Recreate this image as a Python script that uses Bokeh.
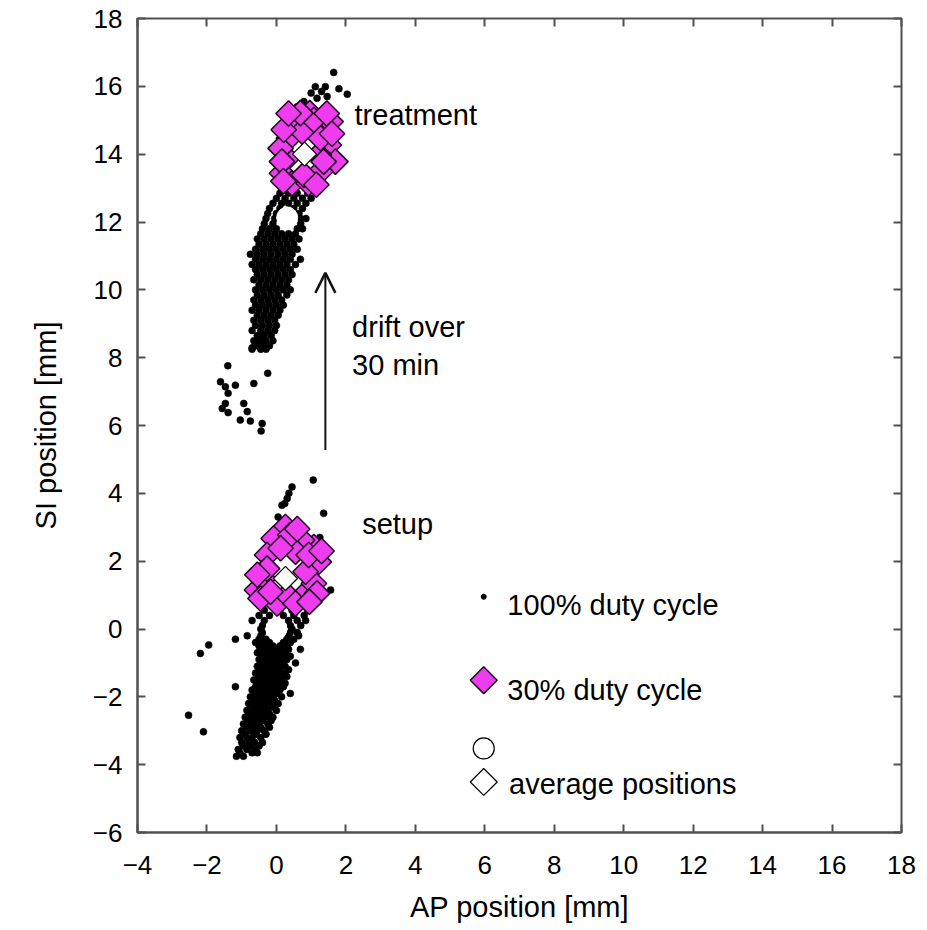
import math
from bokeh.plotting import figure
from bokeh.models import Range1d, FixedTicker, LinearAxis, Label, Arrow, OpenHead
from bokeh.embed import file_html
from bokeh.resources import INLINE

# ---------------- data ----------------
x_ticks = [-4, -2, 0, 2, 4, 6, 8, 10, 12, 14, 16, 18]
x_tick_labels = ["\u22124", "\u22122", "0", "2", "4", "6", "8", "10", "12", "14", "16", "18"]
y_ticks = [-6, -4, -2, 0, 2, 4, 6, 8, 10, 12, 14, 16, 18]
y_tick_labels = ["\u22126", "\u22124", "\u22122", "0", "2", "4", "6", "8", "10", "12", "14", "16", "18"]

# 100% duty cycle, setup: rows of (SI, [AP ...])
setup_rows = [
    (-3.75, [-1.15, -0.95]),
    (-3.65, [-1.05, -0.7, -0.55]),
    (-3.55, [-1.1, -0.85, -0.6]),
    (-3.45, [-0.95, -0.75, -0.5]),
    (-3.35, [-1.0, -0.8, -0.62, -0.4]),
    (-3.2, [-1.05, -0.85, -0.7, -0.45]),
    (-3.1, [-0.9, -0.6, -0.3]),
    (-3.0, [-1.0, -0.75, -0.55, -0.35]),
    (-2.9, [-0.85, -0.65, -0.45, -0.2]),
    (-2.8, [-0.95, -0.7, -0.5, -0.25]),
    (-2.7, [-0.8, -0.6, -0.4, -0.15]),
    (-2.6, [-0.9, -0.7, -0.5, -0.3, -0.1]),
    (-2.5, [-0.75, -0.55, -0.35, -0.2]),
    (-2.4, [-0.85, -0.65, -0.45, -0.25, 0.0]),
    (-2.3, [-0.7, -0.5, -0.3, -0.1]),
    (-2.2, [-0.8, -0.6, -0.4, -0.2, 0.05]),
    (-2.1, [-0.65, -0.45, -0.25, -0.05]),
    (-2.0, [-0.75, -0.55, -0.35, -0.15, 0.15]),
    (-1.9, [-0.6, -0.4, -0.2, 0.0, 0.4]),
    (-1.8, [-0.7, -0.5, -0.3, -0.1, 0.1]),
    (-1.7, [-1.18, -0.6, -0.4, -0.2, 0.0, 0.2]),
    (-1.6, [-0.55, -0.35, -0.15, 0.05, 0.25]),
    (-1.5, [-0.65, -0.45, -0.25, -0.05, 0.15]),
    (-1.4, [-0.5, -0.3, -0.1, 0.1, 0.3]),
    (-1.3, [-0.6, -0.4, -0.2, 0.0, 0.2]),
    (-1.2, [-0.5, -0.3, -0.1, 0.1, 0.35]),
    (-1.1, [-0.55, -0.35, -0.15, 0.05, 0.25]),
    (-1.0, [-0.45, -0.25, -0.05, 0.15, 0.55]),
    (-0.9, [-0.5, -0.3, -0.1, 0.1, 0.3]),
    (-0.8, [-0.4, -0.2, 0.0, 0.2, 0.4]),
    (-0.7, [-0.55, -0.35, -0.15, 0.05, 0.25]),
    (-0.6, [-0.45, -0.25, -0.05, 0.15, 0.35, 0.69]),
    (-0.5, [-0.5, -0.3, -0.1, 0.1, 0.3]),
    (-0.4, [-0.6, -0.4, -0.2, 0.2, 0.4]),
    (-0.3, [-1.18, -0.5, -0.3, 0.3, 0.5]),
    (-0.2, [-0.84, -0.45, 0.35, 0.64]),
    (-0.1, [-0.4, 0.4, 0.6]),
    (0.0, [-0.45, 0.45]),
    (0.1, [-0.4, 0.4, 0.7]),
    (0.25, [-0.7, -0.35, 0.35, 0.6, 0.84]),
    (0.4, [-0.5, -0.2, 0.2, 0.5, 0.8]),
    (0.55, [-0.35, 0.1, 0.45, 0.9]),
]
setup_extra_ap = [-1.95, -2.19, -2.53, -2.1, 1.56, 1.06, 0.45, 0.36, 0.31, 0.16, 0.24, 1.36, 0.05, 0.15, 1.25]
setup_extra_si = [-0.47, -0.72, -2.54, -3.03, 1.15, 4.39, 4.19, 4.0, 3.85, 3.65, 3.7, 3.41, 3.3, 3.15, 2.7]

# 100% duty cycle, treatment
treat_rows = [
    (8.25, [-0.7, -0.45, -0.3]),
    (8.35, [-0.6, -0.4, -0.2]),
    (8.5, [-0.65, -0.5, -0.3, -0.1]),
    (8.65, [-0.55, -0.35, -0.15]),
    (8.8, [-0.7, -0.45, -0.25, -0.05]),
    (8.95, [-0.6, -0.4, -0.2, 0.0]),
    (9.1, [-0.65, -0.45, -0.25, -0.05]),
    (9.25, [-0.55, -0.35, -0.15, 0.05]),
    (9.4, [-0.7, -0.5, -0.3, -0.1, 0.1]),
    (9.55, [-0.6, -0.4, -0.2, 0.0, 0.2]),
    (9.7, [-0.65, -0.45, -0.25, -0.05, 0.15]),
    (9.85, [-0.55, -0.35, -0.15, 0.05, 0.3]),
    (10.0, [-0.6, -0.4, -0.2, 0.0, 0.2, 0.4]),
    (10.15, [-0.5, -0.3, -0.1, 0.1, 0.3]),
    (10.3, [-0.65, -0.45, -0.25, -0.05, 0.15, 0.35]),
    (10.45, [-0.55, -0.35, -0.15, 0.05, 0.25, 0.45]),
    (10.6, [-0.6, -0.4, -0.2, 0.0, 0.2, 0.4]),
    (10.75, [-0.7, -0.5, -0.3, -0.1, 0.1, 0.3, 0.55]),
    (10.9, [-0.6, -0.4, -0.2, 0.0, 0.2, 0.4, 0.69]),
    (11.05, [-0.75, -0.55, -0.35, -0.15, 0.05, 0.25, 0.45]),
    (11.2, [-0.6, -0.4, -0.2, 0.0, 0.2, 0.4, 0.6]),
    (11.35, [-0.5, -0.3, -0.1, 0.1, 0.3, 0.5]),
    (11.5, [-0.55, -0.35, -0.15, 0.05, 0.25, 0.45, 0.65]),
    (11.65, [-0.45, -0.25, -0.05, 0.15, 0.35, 0.55]),
    (11.8, [-0.4, -0.2, 0.0, 0.6, 0.75]),
    (11.95, [-0.35, -0.1, 0.7]),
    (12.1, [-0.3, -0.05, 0.7, 0.85]),
    (12.25, [-0.25, 0.0, 0.65]),
    (12.4, [-0.2, 0.1, 0.5, 0.75]),
    (12.55, [-0.1, 0.15, 0.35, 0.6, 0.85]),
    (12.7, [0.0, 0.25, 0.5, 0.75, 1.0]),
    (12.85, [0.1, 0.35, 0.6, 0.9]),
]
treat_extra_ap = [-0.46, -0.4, -0.5, -0.7, -1.4, -0.25, -1.61, -1.47, -1.18, -0.65, -1.39, -1.47,
                  -1.56, -0.94, -1.39, -0.84, -1.04, -0.75, -0.41, -0.44,
                  1.65, 1.8, 2.04, 1.12, 1.41, 1.46, 1.17, 0.79, 1.3, 1.0, 0.6]
treat_extra_si = [8.68, 8.55, 8.4, 8.29, 7.76, 7.54, 7.29, 7.14, 7.19, 7.24, 6.95, 6.65,
                  6.5, 6.65, 6.38, 6.41, 6.16, 6.13, 6.06, 5.84,
                  16.41, 15.93, 15.77, 15.99, 15.99, 15.7, 15.65, 15.55, 15.85, 15.8, 15.4]

# 30% duty cycle
setup30_ap = [0.26, 1.08, 0.74, -0.08, -0.27, 0.55, 1.22, -0.56, 0.02, 0.74, 1.08, -0.37,
              -0.27, 0.84, 0.31, -0.46, 0.40, 0.12, 0.93, 1.17, 0.55, -0.17,
              0.60, 1.30, -0.55, 0.95]
setup30_si = [3.01, 2.42, 2.62, 2.67, 2.18, 2.28, 1.98, 1.15, 0.75, 0.95, 1.34, 1.49,
              1.78, 1.69, 1.00, 0.90, 2.77, 2.38, 2.18, 1.05, 0.75, 1.10,
              2.95, 2.30, 1.60, 0.80]
treat30_ap = [0.96, 1.56, 0.50, 0.36, 1.51, 1.70, 0.31, 0.16, 0.45, 0.93, 1.27, 1.22,
              1.27, 0.74, 0.12, 1.08, 0.69, 1.36, 0.16, 0.79, 0.21,
              1.45, 0.35, 1.60, 0.20, 1.15]
treat30_si = [15.21, 14.96, 15.06, 14.47, 14.27, 13.78, 13.88, 13.44, 13.14, 13.14, 13.49, 13.98,
              14.47, 14.67, 14.17, 15.01, 15.21, 13.78, 13.78, 13.39, 14.72,
              15.20, 15.20, 14.60, 13.20, 13.10]

# average positions
avg100_ap = [0.0, 0.31]
avg100_si = [0.0, 12.13]
avg30_ap = [0.26, 0.81]
avg30_si = [1.49, 14.0]

# drift arrow
drift_ap = 1.41
drift_si_start = 5.28
drift_si_end = 10.5

# ---------------- build ----------------
def expand(rows, extra_ap, extra_si):
    xs, ys = [], []
    for yv, row in rows:
        for xv in row:
            xs.append(xv)
            ys.append(yv)
    return xs + extra_ap, ys + extra_si

s_ap, s_si = expand(setup_rows, setup_extra_ap, setup_extra_si)
t_ap, t_si = expand(treat_rows, treat_extra_ap, treat_extra_si)

FONT = "Liberation Sans"
FRAME = "#505050"
MAGENTA = "#ee3cee"
EDGE = "#1a0a1a"

p = figure(width=927, height=930, x_range=Range1d(-4, 18), y_range=Range1d(-6, 18),
           output_backend="svg", toolbar_location=None,
           min_border_left=137, min_border_right=26, min_border_top=18, min_border_bottom=98,
           background_fill_color="white", border_fill_color="white")
p.xgrid.visible = False
p.ygrid.visible = False
p.outline_line_color = FRAME
p.outline_line_width = 2

for ax, ticks, labels in ((p.xaxis[0], x_ticks, x_tick_labels), (p.yaxis[0], y_ticks, y_tick_labels)):
    ax.ticker = FixedTicker(ticks=ticks)
    ax.major_label_overrides = {t: l for t, l in zip(ticks, labels)}
    ax.major_tick_in = 8
    ax.major_tick_out = 0
    ax.major_tick_line_color = FRAME
    ax.major_tick_line_width = 2
    ax.minor_tick_line_color = None
    ax.axis_line_color = FRAME
    ax.axis_line_width = 2
    ax.major_label_text_font = FONT
    ax.major_label_text_font_size = "26px"
    ax.major_label_text_color = "black"
    ax.axis_label_text_font = FONT
    ax.axis_label_text_font_size = "29px"
    ax.axis_label_text_font_style = "normal"
    ax.axis_label_text_color = "black"

p.xaxis[0].axis_label = "AP position [mm]"
p.yaxis[0].axis_label = "SI position [mm]"
p.xaxis[0].major_label_standoff = 23
p.xaxis[0].axis_label_standoff = 14
p.yaxis[0].major_label_standoff = 15
p.yaxis[0].axis_label_standoff = 28

top_ax = LinearAxis(ticker=FixedTicker(ticks=x_ticks), major_label_overrides={t: "" for t in x_ticks},
                    major_tick_in=8, major_tick_out=0, major_tick_line_color=FRAME, major_tick_line_width=2,
                    minor_tick_line_color=None, axis_line_color=None, major_label_standoff=0)
right_ax = LinearAxis(ticker=FixedTicker(ticks=y_ticks), major_label_overrides={t: "" for t in y_ticks},
                      major_tick_in=8, major_tick_out=0, major_tick_line_color=FRAME, major_tick_line_width=2,
                      minor_tick_line_color=None, axis_line_color=None, major_label_standoff=0)
p.add_layout(top_ax, "above")
p.add_layout(right_ax, "right")

# 100% duty cycle dots
p.scatter(s_ap, s_si, marker="circle", size=7, fill_color="black", line_color="black", line_width=0.5)
p.scatter(t_ap, t_si, marker="circle", size=7, fill_color="black", line_color="black", line_width=0.5)
# 30% duty cycle diamonds
p.scatter(setup30_ap, setup30_si, marker="square", angle=math.pi / 4, size=18,
          fill_color=MAGENTA, line_color=EDGE, line_width=1.5)
p.scatter(treat30_ap, treat30_si, marker="square", angle=math.pi / 4, size=18,
          fill_color=MAGENTA, line_color=EDGE, line_width=1.5)
# averages
p.scatter(avg100_ap, avg100_si, marker="circle", size=21, fill_color="white", line_color="white", line_width=1)
p.scatter(avg30_ap, avg30_si, marker="square", angle=math.pi / 4, size=17,
          fill_color="white", line_color="black", line_width=1.2)

# arrow
p.add_layout(Arrow(end=OpenHead(size=20, line_width=2.5, line_color="#111111"),
                   x_start=drift_ap, y_start=drift_si_start, x_end=drift_ap, y_end=drift_si_end,
                   line_width=2, line_color="#111111"))

def label(x, y, text, size="29px"):
    p.add_layout(Label(x=x, y=y, text=text, text_font=FONT, text_font_size=size,
                       text_color="black", text_baseline="alphabetic", text_align="left"))

label(2.25, 15.16, "treatment")
label(2.18, 8.91, "drift over")
label(2.18, 7.78, "30 min")
label(2.47, 3.11, "setup")

# legend
leg_x = 5.97
p.scatter([leg_x], [0.95], marker="circle", size=5, fill_color="black", line_color="black")
p.scatter([leg_x], [-1.51], marker="square", angle=math.pi / 4, size=19,
          fill_color=MAGENTA, line_color=EDGE, line_width=1.5)
p.scatter([leg_x], [-3.52], marker="circle", size=21, fill_color="white", line_color="black", line_width=1.2)
p.scatter([leg_x], [-4.51], marker="square", angle=math.pi / 4, size=19,
          fill_color="white", line_color="black", line_width=1.2)
label(6.65, 0.70, "100% duty cycle")
label(6.65, -1.80, "30% duty cycle")
label(6.70, -4.56, "average positions")

open("out.html", "w").write(file_html(p, INLINE))
